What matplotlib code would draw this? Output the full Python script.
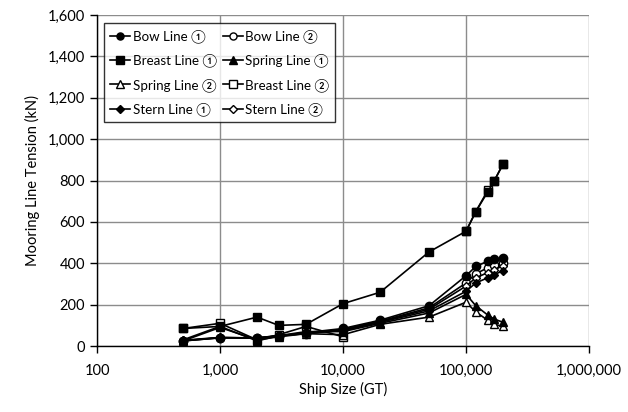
import numpy as np
import matplotlib
matplotlib.use("Agg")
import matplotlib.pyplot as plt
from matplotlib.ticker import FuncFormatter, FixedLocator

plt.rcParams['font.family'] = ['Lato', 'Noto Sans CJK JP', 'DejaVu Sans']

ship_gt = [500, 1000, 2000, 3000, 5000, 10000, 20000, 50000, 100000, 120000, 150000, 170000, 200000]
nan = np.nan
bow1 = [25, 40, 40, 50, 65, 85, 125, 195, 340, 385, 410, 420, 425]
bow2 = [25, 40, 40, 50, 60, 80, 120, 185, 305, 350, 378, 392, 402]
breast1 = [85, 95, 140, 100, 105, 205, 260, 455, 555, 650, 745, 800, 880]
breast2 = [85, 110, 30, 55, 95, 45, nan, nan, 555, 650, 752, 800, 880]
spring1 = [30, 95, 25, 50, 70, 70, 110, 160, 250, 195, 150, 130, 115]
spring2 = [25, 90, 30, 45, 60, 55, 105, 140, 212, 165, 125, 105, 95]
stern1 = [28, 42, 38, 48, 62, 75, 115, 170, 265, 305, 330, 345, 365]
stern2 = [26, 41, 39, 49, 63, 78, 118, 178, 290, 330, 355, 370, 388]

fig = plt.figure(figsize=(6.28, 4.12), dpi=100)
ax = fig.add_axes([0.1545, 0.160, 0.7835, 0.8036])

lw = 1.2
series = [
    ("Bow Line ①", bow1, dict(marker='o', mfc='black', ms=6), 5),
    ("Bow Line ②", bow2, dict(marker='o', mfc='white', ms=6), 3),
    ("Breast Line ①", breast1, dict(marker='s', mfc='black', ms=6), 5),
    ("Spring Line ①", spring1, dict(marker='^', mfc='black', ms=6), 5),
    ("Spring Line ②", spring2, dict(marker='^', mfc='white', ms=6), 3),
    ("Breast Line ②", breast2, dict(marker='s', mfc='white', ms=6), 2),
    ("Stern Line ①", stern1, dict(marker='D', mfc='black', ms=4.5), 5),
    ("Stern Line ②", stern2, dict(marker='D', mfc='white', ms=4.5), 3),
]
handles = {}
for name, vals, st, z in series:
    h, = ax.plot(ship_gt, vals, color='black', lw=lw, mec='black', mew=1.0, label=name, zorder=z, **st)
    handles[name] = h

ax.set_xscale('log')
ax.set_xlim(100, 1e6)
ax.set_ylim(0, 1600)
ax.xaxis.set_major_locator(FixedLocator([100, 1000, 10000, 100000, 1000000]))
ax.xaxis.set_minor_locator(FixedLocator([]))
ax.xaxis.set_major_formatter(FuncFormatter(lambda v, p: f"{int(round(v)):,}"))
ax.set_yticks(np.arange(0, 1601, 200))
ax.yaxis.set_major_formatter(FuncFormatter(lambda v, p: f"{int(v):,}"))
ax.grid(True, color='#8c8c8c', lw=1.0)
ax.set_axisbelow(True)
for s in ['top', 'right']:
    ax.spines[s].set_visible(False)
for s in ['left', 'bottom']:
    ax.spines[s].set_color('black')
    ax.spines[s].set_linewidth(1.0)
ax.tick_params(axis='both', direction='out', length=5, width=1.0, labelsize=10.5, colors='black')
ax.tick_params(axis='x', pad=8)
ax.set_xlabel("Ship Size (GT)", fontsize=10.5, labelpad=3)
ax.set_ylabel("Mooring Line Tension (kN)", fontsize=10.5, labelpad=6)

order = ["Bow Line ①", "Breast Line ①", "Spring Line ②", "Stern Line ①",
         "Bow Line ②", "Spring Line ①", "Breast Line ②", "Stern Line ②"]
leg = ax.legend([handles[n] for n in order], order, ncol=2, loc='upper left',
                bbox_to_anchor=(0.015, 0.975), fontsize=9.6, frameon=True, fancybox=False,
                edgecolor='black', handlelength=1.5, handletextpad=0.2, columnspacing=0.4,
                labelspacing=0.8, borderpad=0.45, borderaxespad=0.0, markerscale=0.85)
leg.get_frame().set_linewidth(1.0)
leg.set_zorder(10)

fig.savefig("out.png", dpi=100)
